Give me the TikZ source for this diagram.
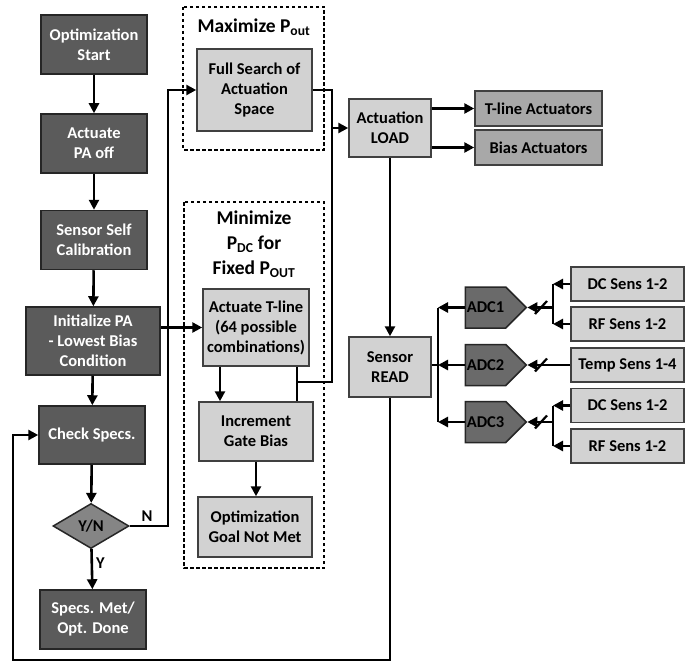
\documentclass[tikz,border=0pt]{standalone}
\usepackage{fontspec}
\setmainfont{Carlito}
\usetikzlibrary{arrows.meta,shapes.geometric,shapes.symbols}
\definecolor{darkbox}{HTML}{5B5B5B}
\definecolor{lightbox}{HTML}{D2D2D2}
\definecolor{midbox}{HTML}{A8A8A8}
\definecolor{adcfill}{HTML}{6A6A6A}
\definecolor{dmd}{HTML}{858585}
\begin{document}
\begin{tikzpicture}[x=1pt,y=-1pt,
  every node/.style={font=\bfseries\fontsize{16.5}{20}\selectfont, align=center, inner sep=0pt},
  dbox/.style={draw=black!85, line width=1.5pt, fill=darkbox, text=white, minimum width=106pt, minimum height=59pt},
  lbox/.style={draw=black!75, line width=1.5pt, fill=lightbox, text=black},
  mbox/.style={draw=black!75, line width=1.5pt, fill=midbox, text=black, minimum width=127pt, minimum height=35pt},
  sbox/.style={draw=black!75, line width=1.5pt, fill=lightbox, text=black, minimum width=113pt, minimum height=34pt},
  adc/.style={signal, signal to=east, signal from=nowhere, draw=black!85, line width=1.5pt, fill=adcfill, text=black, minimum width=61pt, minimum height=41pt},
  conn/.style={line width=2.6pt, draw=black},
  arr/.style={conn, -{Triangle[length=10pt,width=10pt]}},
  dashbox/.style={draw=black, line width=1.7pt, dash pattern=on 3.5pt off 2.5pt},
  ttl/.style={font=\bfseries\fontsize{19.5}{25}\selectfont, text=black}
]
\useasboundingbox (0,0) rectangle (699,666);
\fill[white] (0,0) rectangle (699,666);

% dashed groups
\draw[dashbox] (183,7) rectangle (324,150);
\draw[dashbox] (184,202) rectangle (324,568);
\node[ttl] (ttlmax) at (254,27) {Maximize P\textsubscript{out}};
\node[ttl] (ttlmin) at (254,244) {Minimize\\P\textsubscript{DC} for\\Fixed P\textsubscript{OUT}};

% left column
\node[dbox] (start) at (94,44.5) {Optimization\\Start};
\node[dbox] (paoff) at (94,143.5) {Actuate\\PA off};
\node[dbox] (calib) at (94,240) {Sensor Self\\Calibration};
\node[dbox, minimum width=134pt, minimum height=68pt] (init) at (93,341) {Initialize PA\\- Lowest Bias\\Condition};
\node[dbox, minimum height=58pt] (check) at (92,435) {Check Specs.};
\node[diamond, draw=black!85, line width=1.5pt, fill=dmd, text=black, minimum width=76pt, minimum height=45pt] (yn) at (91,526) {Y/N};
\node[dbox] (done) at (93,619.5) {Specs. Met/\\Opt. Done};

% middle
\node[lbox, minimum width=115pt, minimum height=82pt] (full) at (254.5,90) {Full Search of\\Actuation\\Space};
\node[lbox, minimum width=106pt, minimum height=77pt] (tline) at (256,327.5) {Actuate T-line\\(64 possible\\combinations)};
\node[lbox, minimum width=114pt, minimum height=59pt] (incr) at (256,431.5) {Increment\\Gate Bias};
\node[lbox, minimum width=114pt, minimum height=60pt] (goal) at (255,527) {Optimization\\Goal Not Met};

% right
\node[lbox, minimum width=82pt, minimum height=58pt] (load) at (390,128) {Actuation\\LOAD};
\node[mbox] (tact) at (538.5,108.5) {T-line Actuators};
\node[mbox] (bact) at (538.5,147.5) {Bias Actuators};
\node[lbox, minimum width=82pt, minimum height=60pt] (sread) at (390,367) {Sensor\\READ};
\node[adc] (adc1) at (485.5,307.5) {ADC1};
\node[adc] (adc2) at (485.5,365) {ADC2};
\node[adc] (adc3) at (485.5,422) {ADC3};
\node[sbox] (dc1) at (627.5,284) {DC Sens 1-2};
\node[sbox] (rf1) at (627.5,324) {RF Sens 1-2};
\node[sbox] (temp) at (627.5,365) {Temp Sens 1-4};
\node[sbox] (dc2) at (627.5,405.5) {DC Sens 1-2};
\node[sbox] (rf2) at (627.5,446) {RF Sens 1-2};

% coordinates
\coordinate (nx) at (168,526);
\coordinate (rx1) at (332,90);
\coordinate (rx2) at (332,382);
\coordinate (jx) at (297,382);
\coordinate (tlx) at (220,382);
\coordinate (bl) at (13,660);
\coordinate (br) at (390,660);
\coordinate (bus1) at (438,307.5);
\coordinate (bus2) at (438,365);
\coordinate (bus3) at (438,422);
\coordinate (j1a) at (553,284);
\coordinate (j1b) at (553,324);
\coordinate (j1) at (553,307.5);
\coordinate (j3a) at (553,405.5);
\coordinate (j3b) at (553,446);
\coordinate (j3) at (553,422);

% left column arrows
\draw[arr] (start) -- (paoff);
\draw[arr] (paoff) -- (calib);
\draw[arr] (calib) -- (init);
\draw[arr] (init) -- (check);
\draw[arr] (check) -- (yn);
\draw[arr] (yn) -- node[right=3pt, pos=0.35] {Y} (done);
\draw[arr] (yn.east) -- node[above=3pt, pos=0.45] {N} (nx) |- (full.west);
\draw[arr] (init.east |- tline.west) -- (tline.west);

% middle
\draw[conn] (full.east |- rx1) -- (rx1) -- (rx2) -- (jx);
\draw[conn] (jx |- tline.south) -- (jx |- incr.north);
\draw[arr] (rx1 |- load.west) -- (load.west);
\draw[arr] (tlx |- tline.south) -- (tlx |- incr.north);
\draw[arr] (incr.south) -- (incr.south |- goal.north);

% right
\draw[arr] (load.east |- tact.west) -- (tact.west);
\draw[arr] (load.east |- bact.west) -- (bact.west);
\draw[arr] (load) -- (sread);
\draw[arr] (sread.south) -- (br) -- (bl) |- (check.west);

\draw[conn] (sread.east |- bus2) -- (bus2);
\draw[conn] (bus1) -- (bus3);
\draw[arr] (adc1.west) -- (bus1);
\draw[arr] (adc2.west) -- (bus2);
\draw[arr] (adc3.west) -- (bus3);

\draw[arr] (dc1.west) -- (j1a);
\draw[arr] (rf1.west) -- (j1b);
\draw[conn] (j1a) -- (j1b);
\draw[arr] (j1) -- (adc1.east);
\draw[arr] (temp.west) -- (adc2.east);
\draw[arr] (dc2.west) -- (j3a);
\draw[arr] (rf2.west) -- (j3b);
\draw[conn] (j3a) -- (j3b);
\draw[arr] (j3) -- (adc3.east);

% bus slashes
\foreach \yy in {307.5,365,422} {
  \draw[line width=2.2pt] (535,\yy+6.5) -- (547,\yy-6.5);
}
\end{tikzpicture}
\end{document}
